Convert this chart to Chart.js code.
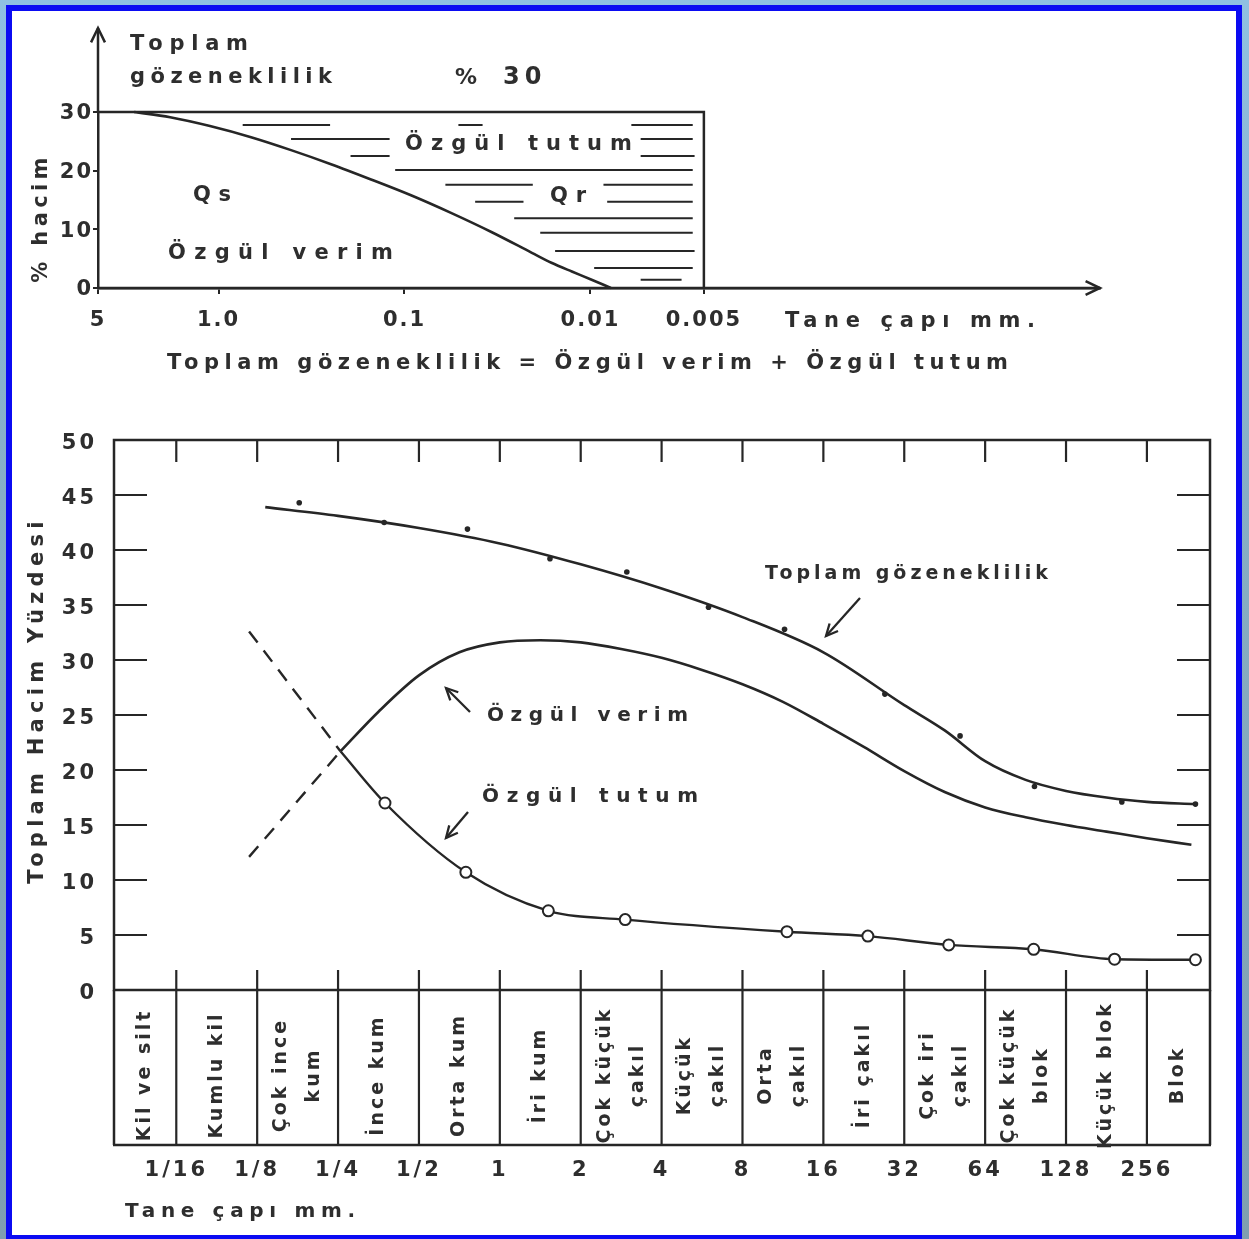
<!DOCTYPE html>
<html><head><meta charset="utf-8">
<script src="https://cdn.jsdelivr.net/npm/chart.js@4.4.1/dist/chart.umd.min.js"></script>
<style>
html,body{margin:0;padding:0;}
body{width:1249px;height:1239px;overflow:hidden;position:relative;background:linear-gradient(180deg,#8fc0e2 0%,#86aec6 40%,#7f9fb0 100%);}
#panel{position:absolute;left:6px;top:5px;width:1236px;height:1236px;box-sizing:border-box;border:6px solid #0b0bf2;background:#fff;}
canvas{position:absolute;left:0;top:0;}
</style></head><body>
<div id="panel"></div>
<canvas id="main" width="1249" height="1239"></canvas>
<canvas id="top" width="1249" height="400"></canvas>
<script>
// ================= DATA: upper schematic (x = -log10(tane çapı mm)) =================
const topTickValues = [-0.648, 0, 1, 2, 2.61];
const topTickLabels = ['5', '1.0', '0.1', '0.01', '0.005'];
const topYTicks = [0, 10, 20, 30];
const topCurveX = [-0.454, -0.26, -0.046, 0.175, 0.39, 0.605, 0.82, 1.035, 1.25, 1.47, 1.685, 1.79, 1.90, 2.0, 2.11];
const topCurveY = [30, 29.1, 27.6, 25.7, 23.5, 21.1, 18.5, 15.8, 12.8, 9.5, 6.0, 4.3, 2.8, 1.5, 0];
const topBoxX = [-0.648, 2.61, 2.61];
const topBoxY = [30, 30, 0];
const hatchRowsY = [27.8, 25.4, 22.5, 20.1, 17.6, 14.7, 11.9, 9.4, 6.3, 3.4, 1.4];
const hatchSegments = [
  [[0.13, 0.60], [1.29, 1.42], [2.22, 2.55]],
  [[0.39, 0.92], [2.27, 2.55]],
  [[0.71, 0.92], [2.27, 2.56]],
  [[0.95, 2.55]],
  [[1.22, 1.69], [2.07, 2.55]],
  [[1.38, 1.64], [2.09, 2.55]],
  [[1.59, 2.55]],
  [[1.73, 2.55]],
  [[1.81, 2.56]],
  [[2.02, 2.55]],
  [[2.27, 2.49]]
];

// ================= DATA: main chart (x = log2(tane çapı mm)) =================
const grainTickValues = [-4, -3, -2, -1, 0, 1, 2, 3, 4, 5, 6, 7, 8];
const grainTickLabels = ['1/16', '1/8', '1/4', '1/2', '1', '2', '4', '8', '16', '32', '64', '128', '256'];
const classNames = [['Kil ve silt'], ['Kumlu kil'], ['Çok ince', 'kum'], ['İnce kum'], ['Orta kum'], ['İri kum'],
  ['Çok küçük', 'çakıl'], ['Küçük', 'çakıl'], ['Orta', 'çakıl'], ['İri çakıl'], ['Çok iri', 'çakıl'],
  ['Çok küçük', 'blok'], ['Küçük blok'], ['Blok']];
const yTicks = [0, 5, 10, 15, 20, 25, 30, 35, 40, 45, 50];
const porosityCurveX = [-2.9, -2, -1, 0, 1, 2, 3, 4, 5, 5.5, 6, 6.5, 7, 7.5, 8, 8.6];
const porosityCurveY = [43.9, 43.1, 42.0, 40.6, 38.7, 36.5, 33.9, 30.7, 25.9, 23.6, 20.8, 19.1, 18.1, 17.5, 17.1, 16.9];
const porosityDotX = [-2.48, -1.43, -0.40, 0.62, 1.57, 2.58, 3.52, 4.76, 5.69, 6.61, 7.69, 8.6];
const porosityDotY = [44.3, 42.5, 41.9, 39.2, 38.0, 34.8, 32.8, 26.9, 23.1, 18.5, 17.1, 16.9];
const yieldX = [-1.97, -1.5, -1.0, -0.5, 0, 0.5, 1.0, 1.5, 2.0, 2.5, 3.0, 3.5, 4.0, 4.5, 5.0, 5.5, 6.0, 6.5, 7.0, 7.5, 8.0, 8.55];
const yieldY = [21.7, 25.3, 28.6, 30.7, 31.6, 31.8, 31.6, 31.0, 30.2, 29.1, 27.8, 26.2, 24.2, 22.1, 19.9, 18.0, 16.6, 15.7, 15.0, 14.4, 13.8, 13.2];
const retentionX = [-1.97, -1.42, -0.42, 0.6, 1.55, 3.55, 4.55, 5.55, 6.6, 7.6, 8.6];
const retentionY = [21.7, 17.0, 10.7, 7.2, 6.4, 5.3, 4.9, 4.1, 3.7, 2.8, 2.75];
const retentionExtX = [-3.1, -1.97];
const retentionExtY = [32.6, 21.7];
const yieldExtX = [-3.1, -1.97];
const yieldExtY = [12.1, 21.7];

// ================= helpers =================
const INK = '#262626';
const TEXT = '#2e2e2e';
const FONT = '"DejaVu Sans", "Liberation Sans", sans-serif';
const pts = (xs, ys) => xs.map((x, i) => ({x, y: ys[i]}));

function drawText(ctx, str, x, y, size, width, opt = {}) {
  ctx.save();
  ctx.font = 'bold ' + size + 'px ' + FONT;
  ctx.fillStyle = TEXT;
  ctx.textBaseline = 'middle';
  let ls = opt.spacing !== undefined ? opt.spacing : 2;
  if (width) {
    ctx.letterSpacing = '0px';
    const w0 = ctx.measureText(str).width;
    ls = (width - w0) / Math.max(str.length - 1, 1);
  }
  ctx.letterSpacing = ls + 'px';
  if (opt.rotate) {
    ctx.translate(x, y);
    ctx.rotate(-Math.PI / 2);
    ctx.textAlign = 'center';
    ctx.fillText(str, 0, 0);
  } else {
    ctx.textAlign = opt.center ? 'center' : 'left';
    ctx.fillText(str, x, y);
  }
  ctx.restore();
}
function seg(ctx, x1, y1, x2, y2) { ctx.beginPath(); ctx.moveTo(x1, y1); ctx.lineTo(x2, y2); ctx.stroke(); }
function arrow(ctx, x1, y1, x2, y2, head = 13) {
  seg(ctx, x1, y1, x2, y2);
  const a = Math.atan2(y2 - y1, x2 - x1);
  ctx.beginPath();
  ctx.moveTo(x2 - head * Math.cos(a - 0.45), y2 - head * Math.sin(a - 0.45));
  ctx.lineTo(x2, y2);
  ctx.lineTo(x2 - head * Math.cos(a + 0.45), y2 - head * Math.sin(a + 0.45));
  ctx.stroke();
}

// ================= upper schematic =================
const hatchData = [];
hatchRowsY.forEach((yv, r) => {
  hatchSegments[r].forEach(([a, b]) => {
    hatchData.push({x: a, y: yv}, {x: b, y: yv}, {x: b, y: null});
  });
});

const topDecor = {
  id: 'topDecor',
  beforeDraw(chart) { chart.ctx.letterSpacing = '2px'; },
  afterDraw(chart) {
    const {ctx, chartArea: a} = chart;
    ctx.save();
    ctx.letterSpacing = '0px';
    ctx.strokeStyle = INK; ctx.lineWidth = 2.5;
    arrow(ctx, a.left, a.top, a.left, 28, 16);
    arrow(ctx, a.left, a.bottom, a.right, a.bottom, 16);
    drawText(ctx, 'Toplam', 130, 45, 21, 118);
    drawText(ctx, 'gözeneklilik', 130, 78, 21, 202);
    drawText(ctx, '%', 455, 78, 22, 0, {spacing: 0});
    drawText(ctx, '30', 503, 78, 24, 0, {spacing: 5});
    drawText(ctx, 'Özgül tutum', 405, 145, 21, 227);
    drawText(ctx, 'Qs', 193, 196, 21, 38);
    drawText(ctx, 'Qr', 550, 197, 21, 36);
    drawText(ctx, 'Özgül verim', 168, 254, 21, 225);
    drawText(ctx, '% hacim', 42, 218, 21, 125, {rotate: true});
    drawText(ctx, 'Tane çapı mm.', 785, 322, 21, 250);
    drawText(ctx, 'Toplam gözeneklilik = Özgül verim + Özgül tutum', 167, 364, 21, 841);
    ctx.restore();
  }
};

new Chart(document.getElementById('top'), {
  type: 'line',
  data: {
    datasets: [
      {label: 'Özgül verim / Özgül tutum sınırı', data: pts(topCurveX, topCurveY), borderColor: INK, borderWidth: 2.6,
       pointRadius: 0, cubicInterpolationMode: 'monotone', fill: false},
      {label: 'Toplam gözeneklilik %30', data: pts(topBoxX, topBoxY), borderColor: INK, borderWidth: 2.5, pointRadius: 0, tension: 0},
      {label: 'Özgül tutum (Qr)', data: hatchData, borderColor: INK, borderWidth: 2, pointRadius: 0, tension: 0, spanGaps: false}
    ]
  },
  options: {
    responsive: false, animation: false, clip: false,
    layout: {padding: {top: 112, right: 149, left: 0, bottom: 0}},
    plugins: {legend: {display: false}, tooltip: {enabled: false}},
    scales: {
      x: {
        type: 'linear', min: -0.648, max: 4.74,
        afterFit: s => { s.height = 112; s.paddingLeft = 0; s.paddingRight = 0; },
        afterBuildTicks: s => { s.ticks = topTickValues.map(v => ({value: v})); },
        ticks: {autoSkip: false, maxRotation: 0, padding: 14, color: TEXT,
                font: {family: FONT, size: 21, weight: 'bold'},
                callback: (v, i) => topTickLabels[i]},
        grid: {drawOnChartArea: false, tickLength: 6, color: INK, lineWidth: 2},
        border: {display: true, color: INK, width: 2.5}
      },
      y: {
        min: 0, max: 30,
        afterFit: s => { s.width = 98; },
        afterBuildTicks: s => { s.ticks = topYTicks.map(v => ({value: v})); },
        ticks: {padding: 0, color: TEXT, labelOffset: 2, font: {family: FONT, size: 21, weight: 'bold'}},
        grid: {drawOnChartArea: false, tickLength: 5, color: INK, lineWidth: 2},
        border: {display: true, color: INK, width: 2.5}
      }
    }
  },
  plugins: [topDecor]
});

// ================= main chart =================
const X_MIN = -4.77, X_MAX = 8.78;

const mainDecor = {
  id: 'mainDecor',
  beforeDraw(chart) { chart.ctx.letterSpacing = '3px'; },
  afterDraw(chart) {
    const {ctx, chartArea: a, scales: {x, y}} = chart;
    ctx.save();
    ctx.letterSpacing = '0px';
    ctx.strokeStyle = INK; ctx.lineWidth = 2.5; ctx.lineCap = 'butt';
    ctx.strokeRect(a.left, a.top, a.right - a.left, a.bottom - a.top);
    const tb = a.bottom + 155;
    seg(ctx, a.left, a.bottom, a.left, tb);
    seg(ctx, a.right, a.bottom, a.right, tb);
    seg(ctx, a.left - 1, tb, a.right + 1, tb);
    ctx.lineWidth = 2.2;
    grainTickValues.forEach(v => {
      const px = x.getPixelForValue(v);
      seg(ctx, px, a.bottom - 20, px, tb);
      seg(ctx, px, a.top, px, a.top + 22);
    });
    yTicks.filter(v => v > 0 && v < 50).forEach(v => {
      const py = y.getPixelForValue(v);
      seg(ctx, a.left, py, a.left + 33, py);
      seg(ctx, a.right - 33, py, a.right, py);
    });
    const edges = [X_MIN, ...grainTickValues, X_MAX];
    classNames.forEach((lines, i) => {
      const cx = (x.getPixelForValue(edges[i]) + x.getPixelForValue(edges[i + 1])) / 2;
      const n = lines.length;
      lines.forEach((t, k) => {
        const lx = cx + (k - (n - 1) / 2) * 33;
        drawText(ctx, t, lx, a.bottom + 85, 19, 0, {rotate: true, spacing: 3});
      });
    });
    drawText(ctx, 'Toplam gözeneklilik', 765, 574, 19, 283);
    drawText(ctx, 'Özgül verim', 487, 716, 20, 201);
    drawText(ctx, 'Özgül tutum', 482, 797, 20, 216);
    ctx.lineWidth = 2.3;
    arrow(ctx, 860, 598, 826, 636);
    arrow(ctx, 470, 712, 446, 688);
    arrow(ctx, 468, 812, 446, 838);
    drawText(ctx, 'Toplam Hacim Yüzdesi', 38, 700, 21, 362, {rotate: true});
    drawText(ctx, 'Tane çapı mm.', 125, 1212, 20, 230);
    ctx.restore();
  }
};

new Chart(document.getElementById('main'), {
  type: 'line',
  data: {
    datasets: [
      {label: 'Özgül tutum', data: pts(retentionX, retentionY), borderColor: INK, borderWidth: 2.4,
       pointRadius: retentionX.map((v, i) => i === 0 ? 0 : 5.5), pointBackgroundColor: '#fff',
       pointBorderColor: INK, pointBorderWidth: 2, cubicInterpolationMode: 'monotone'},
      {label: 'Toplam gözeneklilik (ölçüm)', data: pts(porosityDotX, porosityDotY), showLine: false,
       pointRadius: 2.8, pointBackgroundColor: INK, pointBorderColor: INK, pointBorderWidth: 0},
      {label: 'Toplam gözeneklilik', data: pts(porosityCurveX, porosityCurveY), borderColor: INK, borderWidth: 2.6,
       pointRadius: 0, cubicInterpolationMode: 'monotone'},
      {label: 'Özgül verim', data: pts(yieldX, yieldY), borderColor: INK, borderWidth: 2.6,
       pointRadius: 0, cubicInterpolationMode: 'monotone'},
      {label: 'Özgül tutum (uzatma)', data: pts(retentionExtX, retentionExtY), borderColor: INK, borderWidth: 2.4,
       borderDash: [14, 10], pointRadius: 0, tension: 0},
      {label: 'Özgül verim (uzatma)', data: pts(yieldExtX, yieldExtY), borderColor: INK, borderWidth: 2.4,
       borderDash: [14, 10], pointRadius: 0, tension: 0}
    ]
  },
  options: {
    responsive: false, animation: false,
    layout: {padding: {top: 440, right: 39, left: 0, bottom: 0}},
    plugins: {legend: {display: false}, tooltip: {enabled: false}},
    scales: {
      x: {
        type: 'linear', min: X_MIN, max: X_MAX,
        afterFit: s => { s.height = 249; s.paddingLeft = 0; s.paddingRight = 0; },
        afterBuildTicks: s => { s.ticks = grainTickValues.map(v => ({value: v})); },
        ticks: {autoSkip: false, maxRotation: 0, padding: 168, color: TEXT,
                font: {family: FONT, size: 21, weight: 'bold'},
                callback: (v, i) => grainTickLabels[i]},
        grid: {display: false, drawTicks: false},
        border: {display: false}
      },
      y: {
        min: 0, max: 50,
        afterFit: s => { s.width = 114; s.paddingTop = 0; s.paddingBottom = 0; },
        afterBuildTicks: s => { s.ticks = yTicks.map(v => ({value: v})); },
        ticks: {padding: 17, labelOffset: 4, color: TEXT, font: {family: FONT, size: 21, weight: 'bold'}},
        grid: {display: false, drawTicks: false},
        border: {display: false}
      }
    }
  },
  plugins: [mainDecor]
});
</script></body></html>
